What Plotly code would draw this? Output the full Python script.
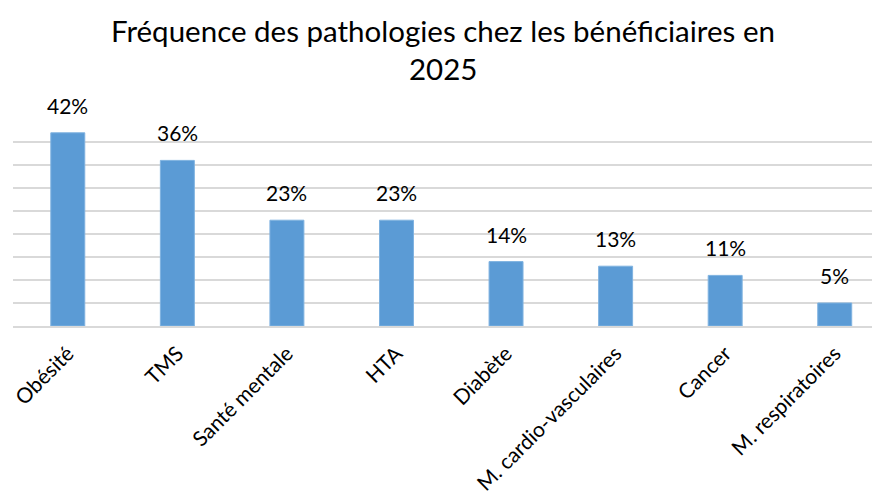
import plotly.graph_objects as go

# Pathology frequency among beneficiaries (percent)
categories = ["Obésité", "TMS", "Santé mentale", "HTA", "Diabète",
              "M. cardio-vasculaires", "Cancer", "M. respiratoires"]
values = [42, 36, 23, 23, 14, 13, 11, 5]
value_labels = [f"{v}%" for v in values]
title_lines = ["Fréquence des pathologies chez les bénéficiaires en", "2025"]

FONT = "Lato, Open Sans, sans-serif"
BAR_COLOR = "#5B9BD5"

fig = go.Figure(
    go.Bar(
        x=categories,
        y=values,
        width=0.31,
        marker=dict(color=BAR_COLOR, line=dict(color="#7FB2E0", width=1)),
        hoverinfo="x+y",
    )
)

# value labels above each bar
for cat, v, lab in zip(categories, values, value_labels):
    fig.add_annotation(
        x=cat, y=v, text=lab, showarrow=False,
        yanchor="bottom", yshift=13,
        font=dict(family=FONT, size=21, color="#000000"),
    )

# two-line title, placed above the plot area
for line, shift in zip(title_lines, [89, 51]):
    fig.add_annotation(
        xref="paper", yref="paper", x=0.5, y=1, text=line,
        showarrow=False, xanchor="center", yanchor="middle", yshift=shift,
        font=dict(family=FONT, size=29.5, color="#000000"),
    )

fig.update_layout(
    width=880, height=502,
    margin=dict(l=13, r=8, t=119, b=176),
    paper_bgcolor="white",
    plot_bgcolor="white",
    showlegend=False,
)
fig.update_xaxes(
    range=[-0.5, 7.34],
    tickangle=-45,
    tickfont=dict(family=FONT, size=21, color="#000000"),
    ticklabelstandoff=5,
    showline=True, linecolor="#D9D9D9", linewidth=2,
    ticks="", showgrid=False,
)
fig.update_yaxes(
    range=[0, 45], dtick=5, showticklabels=False,
    showgrid=True, gridcolor="#D9D9D9", gridwidth=2,
    zeroline=False, ticks="",
)

fig.write_html("out.html")
